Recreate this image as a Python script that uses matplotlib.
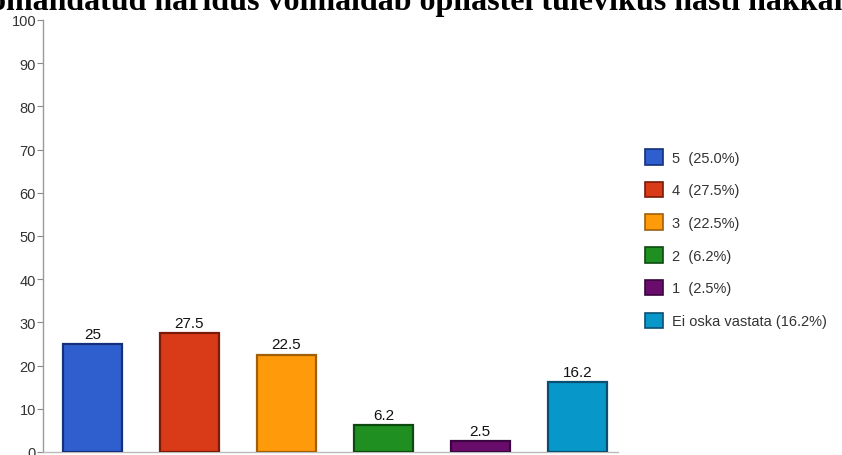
import matplotlib
matplotlib.use('Agg')
import matplotlib.pyplot as plt
import numpy as np

# survey answers and their shares in percent
categories = ['5', '4', '3', '2', '1', 'Ei oska vastata']
values = [25, 27.5, 22.5, 6.2, 2.5, 16.2]
legend_shares = ['25.0%', '27.5%', '22.5%', '6.2%', '2.5%', '16.2%']
y_ticks = [0, 10, 20, 30, 40, 50, 60, 70, 80, 90, 100]
title = 'omandatud haridus võimaldab õpilastel tulevikus hästi hakkama saada'

face_colors = ['#2f5fcf', '#d93a17', '#ff9a0a', '#1f8f22', '#6a0c6c', '#0797c9']
edge_colors = ['#14307a', '#7a1a08', '#a0600a', '#0c4a10', '#3a0540', '#0a4f72']

plt.rcParams['font.family'] = ['Liberation Sans', 'DejaVu Sans']

fig = plt.figure(figsize=(8.42, 4.56), dpi=100)
W, H = 842, 456
ax = fig.add_axes([43 / W, 1 - 453 / H, (618 - 43) / W, (453 - 21) / H])

x = np.arange(len(categories))
bars = ax.bar(x, values, width=0.61, color=face_colors, edgecolor=edge_colors,
              linewidth=1.6, zorder=3)

for xi, v in zip(x, values):
    ax.text(xi, v + 0.8, f'{v:g}', ha='center', va='bottom', fontsize=11, color='#111111')

ax.set_xlim(-0.51, 5.42)
ax.set_ylim(0, 100)
ax.set_yticks(y_ticks)
ax.set_xticks([])
ax.tick_params(axis='y', direction='out', length=4, width=0.8, color='#888888',
               labelsize=10.5, labelcolor='#333333', pad=1)
for side in ['top', 'right']:
    ax.spines[side].set_visible(False)
ax.spines['left'].set_color('#9a9a9a')
ax.spines['bottom'].set_color('#bbbbbb')
ax.spines['left'].set_linewidth(1.0)
ax.spines['bottom'].set_linewidth(1.0)

# legend on the right side
handles = [plt.Rectangle((0, 0), 1, 1, facecolor=fc, edgecolor=ec, linewidth=1.2)
           for fc, ec in zip(face_colors, edge_colors)]
labels = []
for c, s in zip(categories, legend_shares):
    sep = '  ' if len(c) == 1 else ' '
    labels.append(f'{c}{sep}({s})')
fig.legend(handles, labels, loc='upper left', bbox_to_anchor=(632 / W, 1 - 137 / H),
           frameon=False, fontsize=10.5, handlelength=1.25, handleheight=1.25,
           handletextpad=0.6, labelspacing=1.17, labelcolor='#333333')

# heading runs past the edges of the figure
fig.text(-10 / W, 1 - 10 / H, title, ha='left', va='baseline', fontsize=23,
         fontweight='bold', family='Liberation Serif', color='black')

fig.savefig('out.png', dpi=100)
